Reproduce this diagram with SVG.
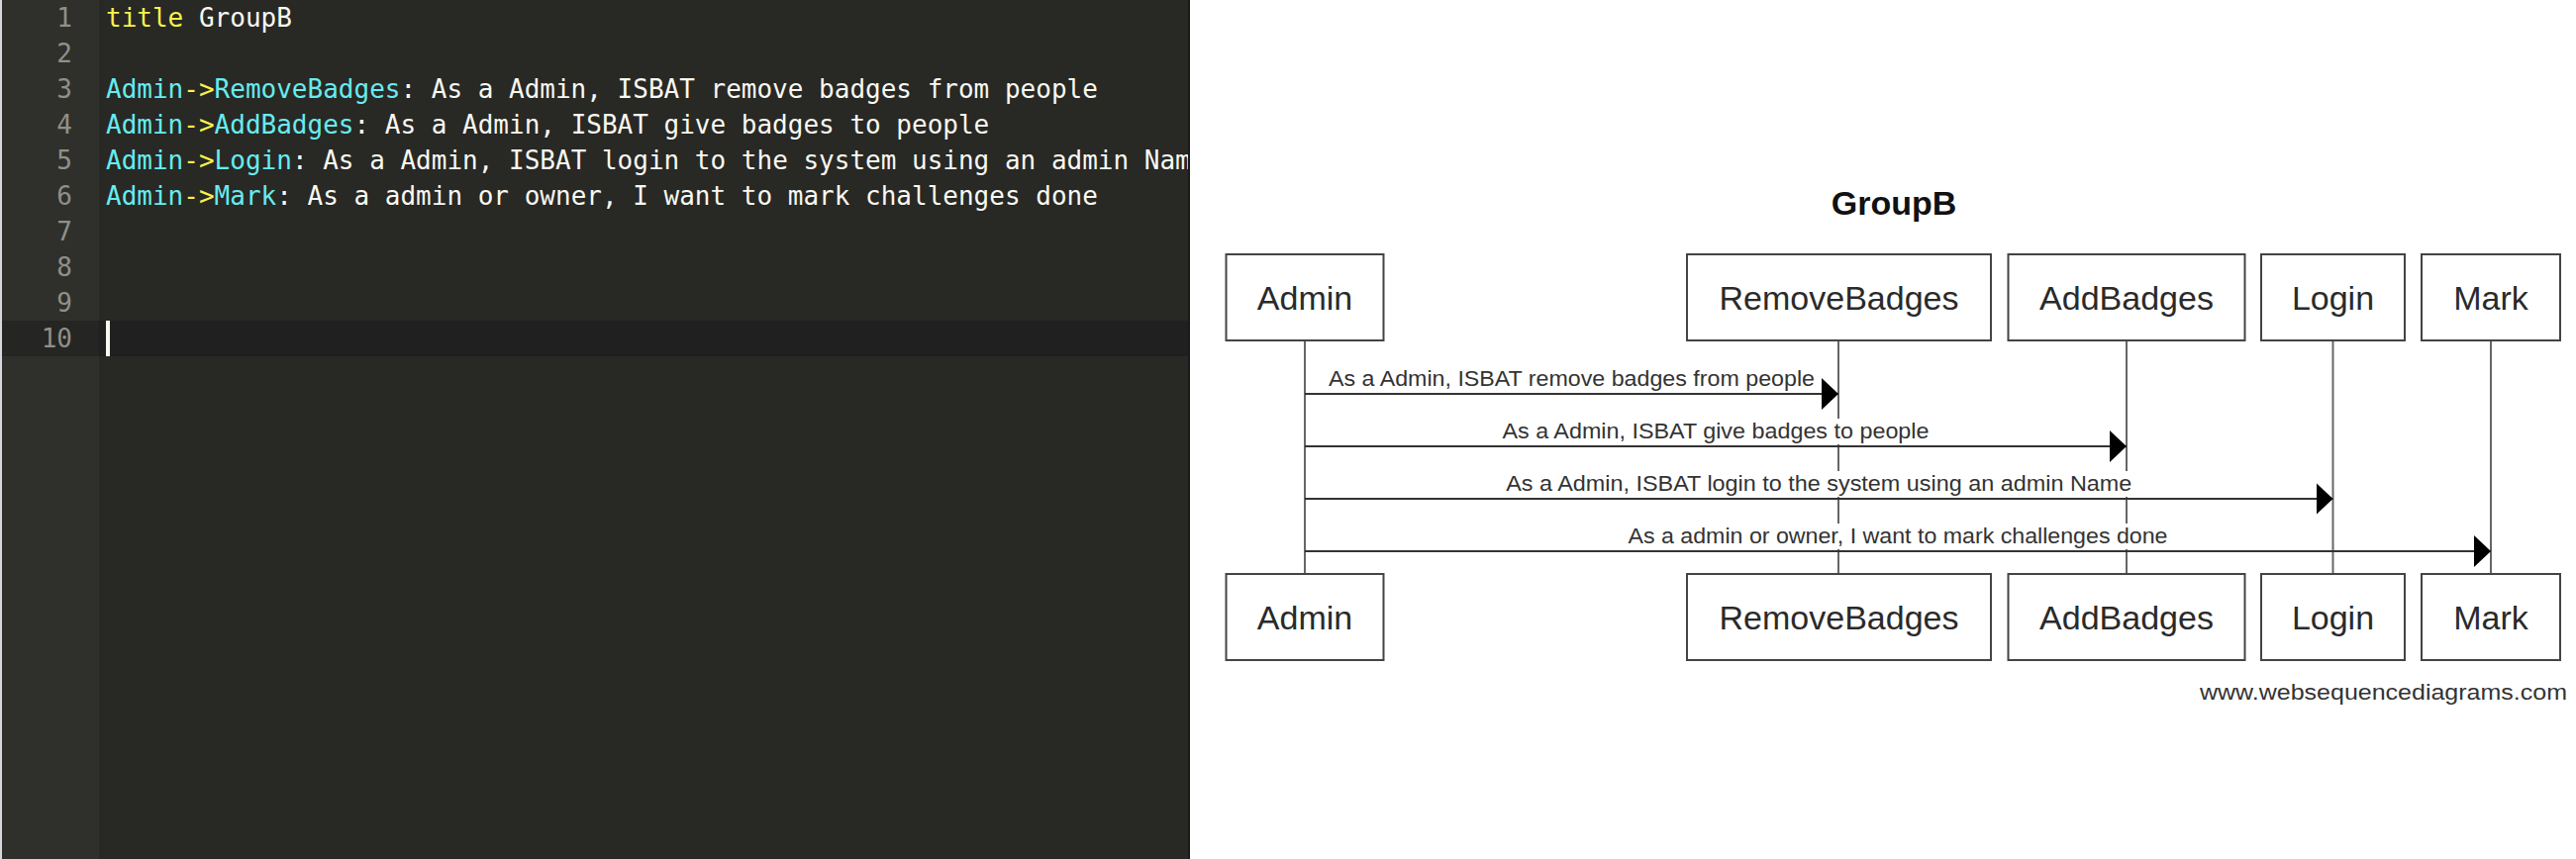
<svg xmlns="http://www.w3.org/2000/svg" width="2602" height="868" viewBox="0 0 2602 868">
  <defs>
    <style>
      .code { font-family: "DejaVu Sans Mono", "Liberation Mono", monospace; font-size: 26px; fill: #F8F8F2; }
      .ln { font-family: "DejaVu Sans Mono", "Liberation Mono", monospace; font-size: 26px; fill: #8F908A; text-anchor: end; }
      .kw { fill: #F7F24A; }
      .id { fill: #66ECF0; }
      .box { fill: #ffffff; stroke: #444444; stroke-width: 2; }
      .pt { font-family: "Liberation Sans", Arial, sans-serif; font-size: 34px; fill: #2a2a2a; text-anchor: middle; }
      .life { stroke: #666666; stroke-width: 2; fill: none; }
      .msg { stroke: #333333; stroke-width: 2; fill: none; marker-end: url(#arrow); }
      .lbl { font-family: "Liberation Sans", Arial, sans-serif; font-size: 22px; fill: #333333; text-anchor: middle; }
      .lblbg { fill: #ffffff; }
    </style>
    <marker id="arrow" markerUnits="userSpaceOnUse" markerWidth="17" markerHeight="32" viewBox="0 0 17 32" refX="17" refY="16" orient="auto">
      <path d="M0,0 L17,16 L0,32 Z" fill="#000000"/>
    </marker>
    <clipPath id="editorClip">
      <rect x="0" y="0" width="1200" height="868"/>
    </clipPath>
  </defs>

  <!-- Editor pane -->
  <g id="editor">
    <rect x="0" y="0" width="1201" height="868" fill="#282824"/>
    <rect x="0" y="0" width="100" height="868" fill="#2F302B"/>
    <rect x="0" y="324" width="100" height="36" fill="#252523"/>
    <rect x="100" y="324" width="1101" height="36" fill="#202020"/>
    <rect x="0" y="0" width="2" height="868" fill="#D5D9DE"/>
    <rect x="1200" y="0" width="2" height="868" fill="#1a1a1a"/>
    <g id="line-numbers">
      <text class="ln" x="73" y="27">1</text>
      <text class="ln" x="73" y="63">2</text>
      <text class="ln" x="73" y="99">3</text>
      <text class="ln" x="73" y="135">4</text>
      <text class="ln" x="73" y="171">5</text>
      <text class="ln" x="73" y="207">6</text>
      <text class="ln" x="73" y="243">7</text>
      <text class="ln" x="73" y="279">8</text>
      <text class="ln" x="73" y="315">9</text>
      <text class="ln" x="73" y="351">10</text>
    </g>
    <g id="code" clip-path="url(#editorClip)">
      <text class="code" x="107" y="27" xml:space="preserve"><tspan class="kw">title</tspan> GroupB</text>
      <text class="code" x="107" y="99" xml:space="preserve"><tspan class="id">Admin</tspan><tspan class="kw">-&gt;</tspan><tspan class="id">RemoveBadges</tspan>: As a Admin, ISBAT remove badges from people</text>
      <text class="code" x="107" y="135" xml:space="preserve"><tspan class="id">Admin</tspan><tspan class="kw">-&gt;</tspan><tspan class="id">AddBadges</tspan>: As a Admin, ISBAT give badges to people</text>
      <text class="code" x="107" y="171" xml:space="preserve"><tspan class="id">Admin</tspan><tspan class="kw">-&gt;</tspan><tspan class="id">Login</tspan>: As a Admin, ISBAT login to the system using an admin Name</text>
      <text class="code" x="107" y="207" xml:space="preserve"><tspan class="id">Admin</tspan><tspan class="kw">-&gt;</tspan><tspan class="id">Mark</tspan>: As a admin or owner, I want to mark challenges done</text>
    </g>
    <rect id="cursor" x="107" y="324" width="4" height="36" fill="#F8F8F0"/>
  </g>

  <!-- Diagram pane -->
  <rect x="1202" y="0" width="1400" height="868" fill="#ffffff"/>

  <text id="title" x="1913" y="217" font-family="Liberation Sans, Arial, sans-serif" font-size="34" font-weight="bold" fill="#111111" text-anchor="middle">GroupB</text>

  <g id="lifelines">
    <line class="life" x1="1318" y1="344" x2="1318" y2="580"/>
    <line class="life" x1="1857" y1="344" x2="1857" y2="580"/>
    <line class="life" x1="2148" y1="344" x2="2148" y2="580"/>
    <line class="life" x1="2356.5" y1="344" x2="2356.5" y2="580"/>
    <line class="life" x1="2516" y1="344" x2="2516" y2="580"/>
  </g>

  <g id="node-Admin">
    <rect class="box" x="1238.5" y="257" width="159" height="87"/>
    <text class="pt" x="1318" y="313">Admin</text>
    <rect class="box" x="1238.5" y="580" width="159" height="87"/>
    <text class="pt" x="1318" y="636">Admin</text>
  </g>
  <g id="node-RemoveBadges">
    <rect class="box" x="1704" y="257" width="307" height="87"/>
    <text class="pt" x="1857.5" y="313">RemoveBadges</text>
    <rect class="box" x="1704" y="580" width="307" height="87"/>
    <text class="pt" x="1857.5" y="636">RemoveBadges</text>
  </g>
  <g id="node-AddBadges">
    <rect class="box" x="2028.5" y="257" width="239" height="87"/>
    <text class="pt" x="2148" y="313">AddBadges</text>
    <rect class="box" x="2028.5" y="580" width="239" height="87"/>
    <text class="pt" x="2148" y="636">AddBadges</text>
  </g>
  <g id="node-Login">
    <rect class="box" x="2284" y="257" width="145" height="87"/>
    <text class="pt" x="2356.5" y="313">Login</text>
    <rect class="box" x="2284" y="580" width="145" height="87"/>
    <text class="pt" x="2356.5" y="636">Login</text>
  </g>
  <g id="node-Mark">
    <rect class="box" x="2446" y="257" width="140" height="87"/>
    <text class="pt" x="2516" y="313">Mark</text>
    <rect class="box" x="2446" y="580" width="140" height="87"/>
    <text class="pt" x="2516" y="636">Mark</text>
  </g>

  <g id="connectors">
    <rect class="lblbg" x="1339" y="370" width="497" height="26"/>
    <text class="lbl" x="1587.5" y="389.5" textLength="491" lengthAdjust="spacingAndGlyphs">As a Admin, ISBAT remove badges from people</text>
    <line class="msg" x1="1318" y1="398" x2="1857" y2="398"/>

    <rect class="lblbg" x="1514.5" y="423" width="437" height="26"/>
    <text class="lbl" x="1733" y="442.5" textLength="431" lengthAdjust="spacingAndGlyphs">As a Admin, ISBAT give badges to people</text>
    <line class="msg" x1="1318" y1="451" x2="2148" y2="451"/>

    <rect class="lblbg" x="1518" y="476" width="638" height="26"/>
    <text class="lbl" x="1837.25" y="495.5" textLength="632" lengthAdjust="spacingAndGlyphs">As a Admin, ISBAT login to the system using an admin Name</text>
    <line class="msg" x1="1318" y1="504" x2="2356.5" y2="504"/>

    <rect class="lblbg" x="1641.5" y="529" width="551" height="26"/>
    <text class="lbl" x="1917" y="548.5" textLength="545" lengthAdjust="spacingAndGlyphs">As a admin or owner, I want to mark challenges done</text>
    <line class="msg" x1="1318" y1="557" x2="2516" y2="557"/>
  </g>

  <text id="watermark" x="2593" y="707" font-family="Liberation Sans, Arial, sans-serif" font-size="22" fill="#333333" text-anchor="end" textLength="371" lengthAdjust="spacingAndGlyphs">www.websequencediagrams.com</text>
</svg>
